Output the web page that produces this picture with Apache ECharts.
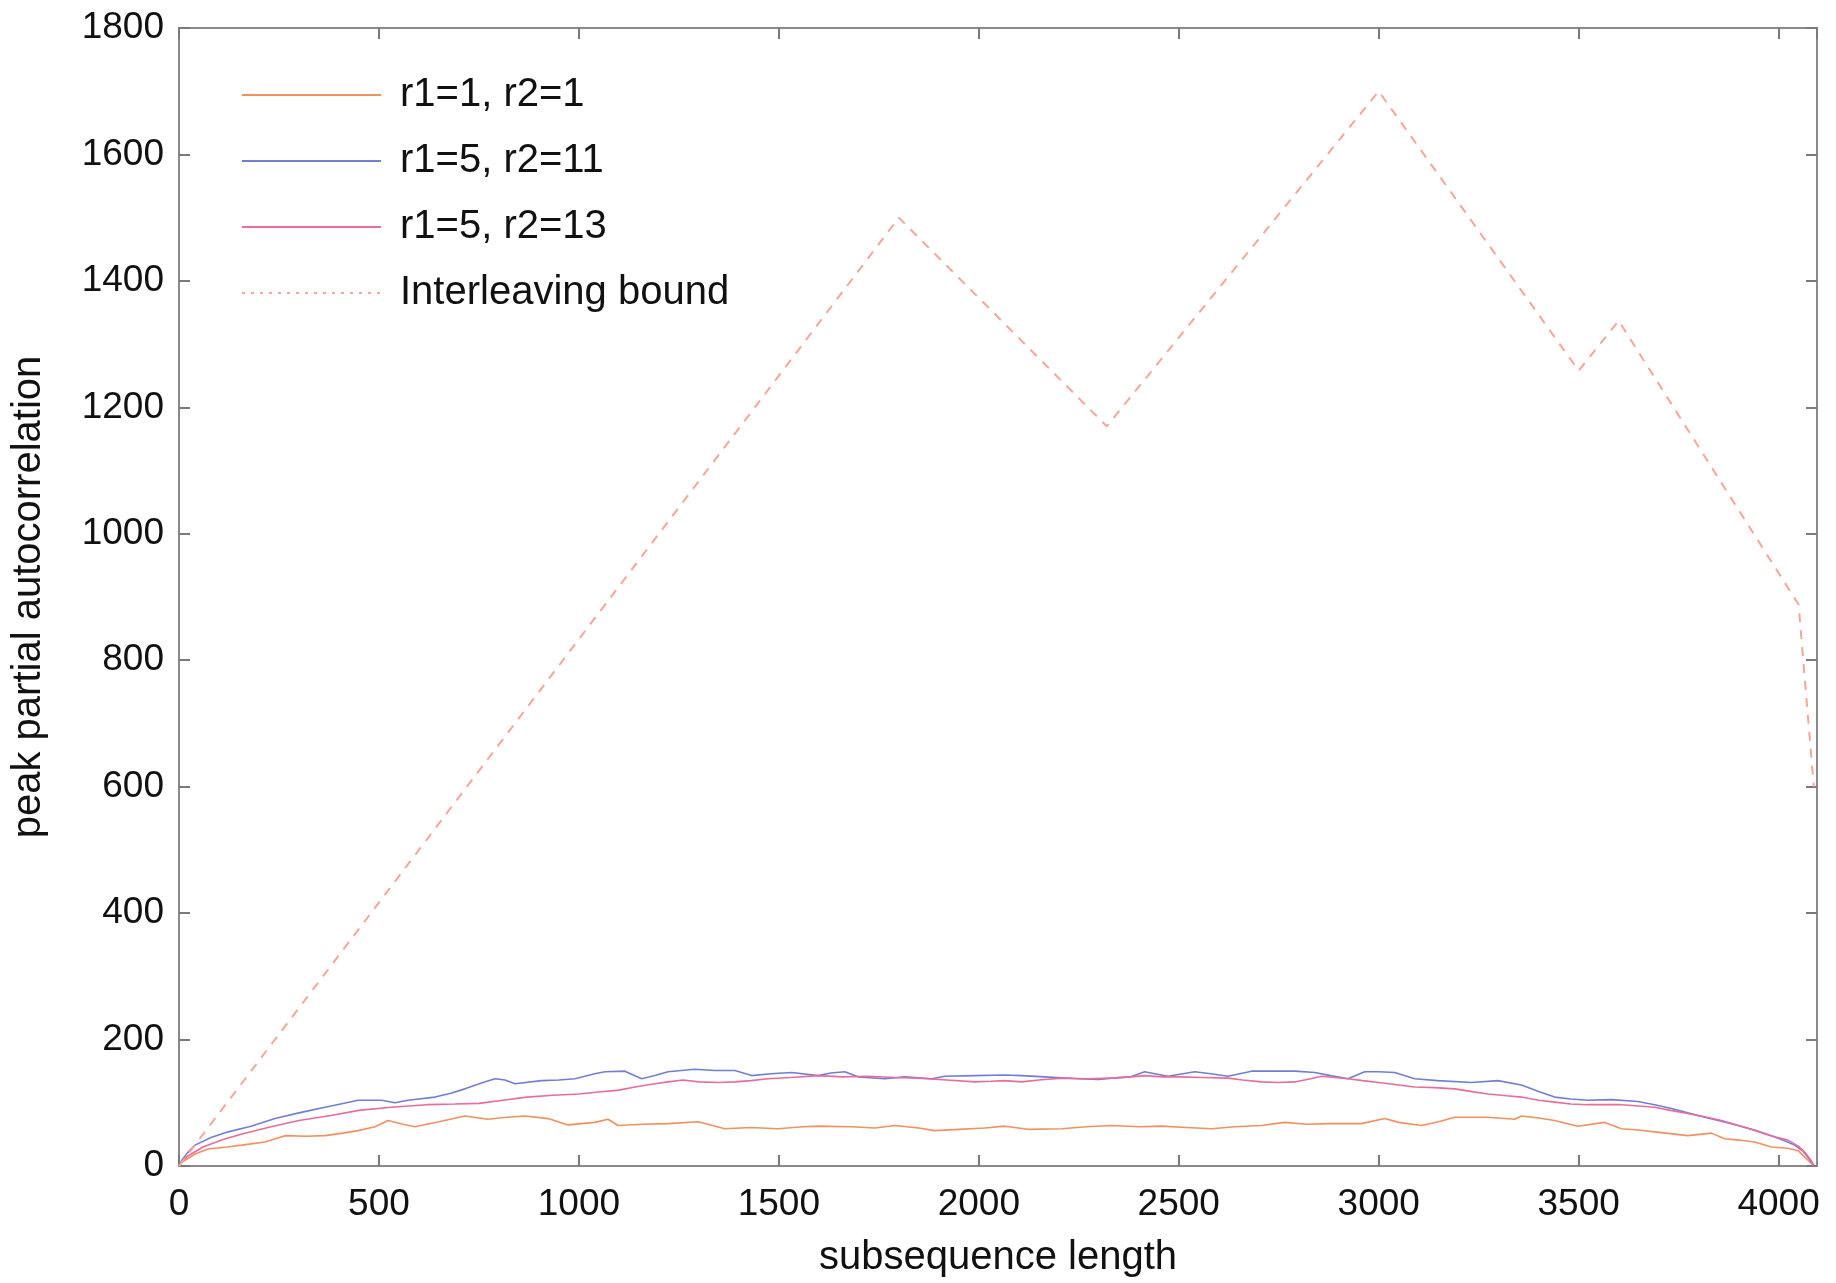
<!DOCTYPE html>
<html>
<head>
<meta charset="utf-8">
<script src="https://cdn.jsdelivr.net/npm/echarts@6/dist/echarts.min.js"></script>
<style>
  html, body { margin: 0; padding: 0; background: #fff; }
  #chart { width: 1836px; height: 1283px; }
</style>
</head>
<body>
<div id="chart"></div>
<script>
// Peak partial autocorrelation versus subsequence length, [length, value] pairs
const seriesNames = ['r1=1, r2=1', 'r1=5, r2=11', 'r1=5, r2=13', 'Interleaving bound'];

const r1r2One = [
  [0,0],[7,6],[40,19],[73,27],[120,30],[157,33],[215,38],[265,48],[320,47],[365,48],
  [410,52],[448,56],[490,62],[523,72],[560,66],[590,62],[650,70],[715,79],[773,74],[820,77],
  [865,79],[923,75],[973,65],[1040,69],[1073,74],[1098,64],[1160,66],[1223,67],[1298,70],[1365,59],
  [1430,61],[1498,59],[1560,62],[1598,63],[1682,62],[1740,60],[1790,64],[1850,60],[1890,56],[1950,58],
  [2015,60],[2065,63],[2123,58],[2207,59],[2270,62],[2332,64],[2400,62],[2457,63],[2520,61],[2582,59],
  [2640,62],[2707,64],[2765,69],[2820,66],[2873,67],[2957,67],[3015,75],[3050,69],[3107,64],[3150,70],
  [3190,77],[3273,77],[3340,74],[3357,79],[3400,76],[3440,72],[3498,63],[3565,69],[3607,59],[3650,57],
  [3690,54],[3773,48],[3832,52],[3865,43],[3900,41],[3940,38],[3982,30],[4023,28],[4050,24],[4065,14],
  [4088,1]
];

const r1Five_r2Eleven = [
  [0,0],[7,9],[20,20],[40,33],[80,45],[123,54],[180,63],[240,75],[300,84],[365,93],
  [410,99],[448,104],[507,104],[540,100],[573,104],[640,109],[680,115],[715,122],[760,132],[790,138],
  [815,136],[840,130],[907,135],[950,136],[990,138],[1040,146],[1065,149],[1115,150],[1157,138],[1190,143],
  [1223,149],[1290,153],[1340,151],[1390,151],[1432,143],[1480,146],[1532,148],[1598,143],[1630,147],[1665,149],
  [1698,141],[1765,138],[1815,141],[1882,138],[1915,142],[1990,143],[2065,144],[2107,143],[2165,141],[2248,138],
  [2300,137],[2332,139],[2380,141],[2415,149],[2440,146],[2473,142],[2540,149],[2580,146],[2623,142],[2682,150],
  [2740,150],[2790,150],[2840,148],[2880,143],[2923,138],[2965,149],[3000,149],[3040,148],[3090,138],[3148,135],
  [3232,132],[3298,135],[3357,128],[3400,118],[3440,109],[3480,106],[3523,104],[3582,105],[3648,102],[3690,97],
  [3732,91],[3773,84],[3815,77],[3857,71],[3898,64],[3940,57],[3982,48],[4015,40],[4040,33],[4060,24],
  [4073,14],[4088,1]
];

const r1Five_r2Thirteen = [
  [0,0],[20,15],[60,30],[110,42],[160,51],[230,62],[300,72],[380,80],[450,88],[530,93],
  [620,97],[690,98],[750,99],[810,104],[870,109],[935,112],[1000,114],[1050,117],[1100,120],[1140,125],
  [1190,130],[1223,133],[1260,136],[1300,133],[1350,132],[1390,133],[1430,135],[1473,138],[1530,140],[1598,143],
  [1660,141],[1723,142],[1790,140],[1848,139],[1920,136],[1990,133],[2030,134],[2065,135],[2107,133],[2150,136],
  [2207,139],[2270,138],[2332,139],[2380,141],[2415,143],[2460,141],[2498,141],[2560,140],[2623,139],[2660,136],
  [2707,133],[2750,132],[2790,133],[2830,138],[2857,142],[2890,140],[2923,138],[2960,135],[3000,132],[3040,129],
  [3090,125],[3140,124],[3190,122],[3230,118],[3273,114],[3320,111],[3357,109],[3400,104],[3440,101],[3480,98],
  [3523,97],[3570,97],[3607,97],[3650,95],[3690,93],[3730,88],[3773,83],[3815,78],[3857,72],[3900,64],
  [3940,56],[3980,48],[4023,41],[4050,31],[4065,22],[4080,10],[4088,1]
];

const interleavingBound = [
  [0,0],[1800,1500],[2320,1170],[3000,1700],[3500,1258],[3600,1337],[4050,888],[4088,600]
];

// Axis ranges and tick spacing
const xMax = 4096, xStep = 500;
const yMax = 1800, yStep = 200;

const seriesColors = ['#f2905e', '#6f7fd6', '#ec6a9c', '#f6a696'];

const FONT = '"Liberation Sans", Arial, Helvetica, sans-serif';
const frame = { show: true, onZero: false, lineStyle: { color: '#8a8a8a', width: 2 } };
const tickIn = { show: true, inside: true, length: 11, lineStyle: { color: '#7a7a7a', width: 2 } };
const tickLabel = { color: '#111', fontFamily: FONT, fontSize: 37 };
const titleText = { color: '#111', fontFamily: FONT, fontSize: 40 };

const chart = echarts.init(document.getElementById('chart'), null, { renderer: 'canvas' });

function lineSeries(name, data, color, dashed) {
  return {
    name: name,
    type: 'line',
    data: data,
    showSymbol: false,
    symbol: 'none',
    animation: false,
    xAxisIndex: 0,
    yAxisIndex: 0,
    lineStyle: { color: color, width: dashed ? 2 : 1.6, type: dashed ? [9, 8] : 'solid' },
    itemStyle: { color: color }
  };
}

chart.setOption({
  backgroundColor: '#ffffff',
  animation: false,
  grid: { left: 179, right: 19, top: 28, bottom: 117, containLabel: false },
  legend: {
    show: true,
    orient: 'vertical',
    left: 236,
    top: 70,
    itemWidth: 139,
    itemHeight: 16,
    itemGap: 26,
    itemStyle: { opacity: 0 },
    data: [
      { name: seriesNames[0] },
      { name: seriesNames[1] },
      { name: seriesNames[2] },
      { name: seriesNames[3], lineStyle: { type: [3, 6], width: 2 } }
    ],
    textStyle: Object.assign({ padding: [0, 0, 0, 14] }, titleText)
  },
  xAxis: [
    {
      type: 'value', min: 0, max: xMax, interval: xStep, position: 'bottom',
      name: 'subsequence length', nameLocation: 'middle', nameGap: 72,
      nameTextStyle: titleText,
      axisLine: frame, axisTick: tickIn, splitLine: { show: false },
      axisLabel: Object.assign({ margin: 20, showMaxLabel: false,
        formatter: v => (v % xStep === 0 ? String(v) : '') }, tickLabel)
    },
    {
      type: 'value', min: 0, max: xMax, interval: xStep, position: 'top',
      axisLine: frame, axisTick: tickIn, splitLine: { show: false },
      axisLabel: { show: false }
    }
  ],
  yAxis: [
    {
      type: 'value', min: 0, max: yMax, interval: yStep, position: 'left',
      name: 'peak partial autocorrelation', nameLocation: 'middle', nameGap: 130, nameRotate: 90,
      nameTextStyle: titleText,
      axisLine: frame, axisTick: tickIn, splitLine: { show: false },
      axisLabel: Object.assign({ margin: 15, formatter: v => String(v) }, tickLabel)
    },
    {
      type: 'value', min: 0, max: yMax, interval: yStep, position: 'right',
      axisLine: frame, axisTick: tickIn, splitLine: { show: false },
      axisLabel: { show: false }
    }
  ],
  series: [
    lineSeries(seriesNames[0], r1r2One, seriesColors[0], false),
    lineSeries(seriesNames[1], r1Five_r2Eleven, seriesColors[1], false),
    lineSeries(seriesNames[2], r1Five_r2Thirteen, seriesColors[2], false),
    lineSeries(seriesNames[3], interleavingBound, seriesColors[3], true)
  ]
});
</script>
</body>
</html>
